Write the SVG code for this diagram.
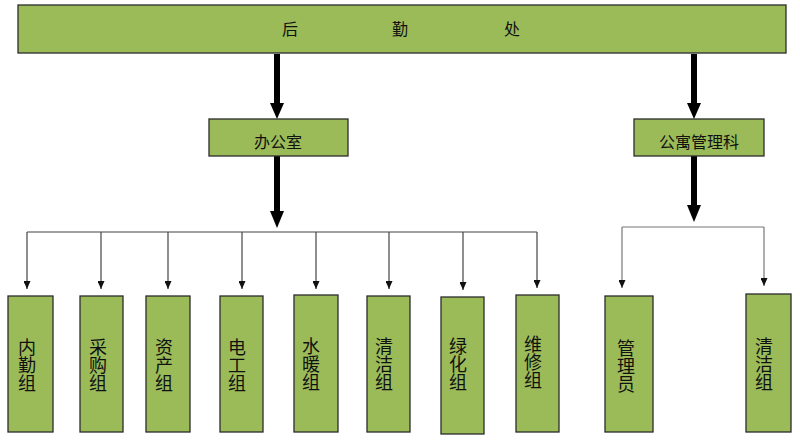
<svg xmlns="http://www.w3.org/2000/svg" width="800" height="444" viewBox="0 0 800 444">
<defs>
<style>
.box{fill:#9BBB59;stroke:#2b2b2b;stroke-width:1.3}
.t{font-family:"Noto Sans CJK SC","Noto Sans",sans-serif;font-size:16px;fill:#111;text-anchor:middle;dominant-baseline:central}
.v{font-family:"Noto Sans CJK SC","Noto Sans",sans-serif;font-size:18px;fill:#111;text-anchor:middle;writing-mode:vertical-rl;text-orientation:upright}
.thick{stroke:#000;stroke-width:6;fill:none}
.thin{stroke:#444;stroke-width:1.2;fill:none}
</style>
<marker id="small" viewBox="0 0 7 8" refX="3.5" refY="8" markerWidth="7" markerHeight="8" markerUnits="userSpaceOnUse">
<path d="M0,0 L7,0 L3.5,8 Z" fill="#111"/>
</marker>
</defs>
<rect width="800" height="444" fill="#fff"/>

<g id="connectors">
<line class="thick" x1="277" y1="54" x2="277" y2="103"/>
<path d="M270,103 L284,103 L277,119 Z" fill="#000"/>
<line class="thick" x1="277" y1="156" x2="277" y2="212"/>
<path d="M270,211 L284,211 L277,228 Z" fill="#000"/>
<line class="thick" x1="694" y1="54" x2="694" y2="103"/>
<path d="M687,103 L701,103 L694,119 Z" fill="#000"/>
<line class="thick" x1="694" y1="156" x2="694" y2="206"/>
<path d="M687,205 L701,205 L694,222 Z" fill="#000"/>

<polyline class="thin" points="27,232 537,232"/>
<line class="thin" x1="27" y1="232" x2="27" y2="289" marker-end="url(#small)"/>
<line class="thin" x1="101" y1="232" x2="101" y2="289" marker-end="url(#small)"/>
<line class="thin" x1="168" y1="232" x2="168" y2="289" marker-end="url(#small)"/>
<line class="thin" x1="242" y1="232" x2="242" y2="289" marker-end="url(#small)"/>
<line class="thin" x1="316" y1="232" x2="316" y2="289" marker-end="url(#small)"/>
<line class="thin" x1="389" y1="232" x2="389" y2="289" marker-end="url(#small)"/>
<line class="thin" x1="463" y1="232" x2="463" y2="290" marker-end="url(#small)"/>
<line class="thin" x1="537" y1="232" x2="537" y2="288" marker-end="url(#small)"/>

<polyline class="thin" points="622,227 764,227" style="stroke:#777"/>
<line class="thin" x1="622" y1="227" x2="622" y2="288" style="stroke:#777" marker-end="url(#small)"/>
<line class="thin" x1="764" y1="227" x2="764" y2="286" style="stroke:#777" marker-end="url(#small)"/>
</g>

<g id="top">
<rect class="box" x="18" y="5" width="768" height="48"/>
<text class="t" x="290" y="28">后</text>
<text class="t" x="400" y="28">勤</text>
<text class="t" x="512" y="28">处</text>
</g>

<g id="office">
<rect class="box" x="209" y="119" width="139" height="37"/>
<text class="t" x="278" y="141">办公室</text>
</g>

<g id="apartment">
<rect class="box" x="634" y="119" width="130" height="37"/>
<text class="t" x="699" y="141">公寓管理科</text>
</g>

<g id="neiqin">
<rect class="box" x="8" y="296" width="45" height="136"/>
<text class="v" x="27" y="365">内勤组</text>
</g>
<g id="caigou">
<rect class="box" x="80" y="296" width="43" height="136"/>
<text class="v" x="98" y="365">采购组</text>
</g>
<g id="zichan">
<rect class="box" x="146" y="296" width="44" height="136"/>
<text class="v" x="164" y="365">资产组</text>
</g>
<g id="diangong">
<rect class="box" x="220" y="296" width="43" height="136"/>
<text class="v" x="237" y="365">电工组</text>
</g>
<g id="shuinuan">
<rect class="box" x="294" y="295" width="44" height="137"/>
<text class="v" x="311" y="364">水暖组</text>
</g>
<g id="qingjie1">
<rect class="box" x="367" y="296" width="43" height="136"/>
<text class="v" x="384" y="364">清洁组</text>
</g>
<g id="lvhua">
<rect class="box" x="441" y="297" width="43" height="137"/>
<text class="v" x="458" y="364">绿化组</text>
</g>
<g id="weixiu">
<rect class="box" x="516" y="295" width="43" height="137"/>
<text class="v" x="533" y="362">维修组</text>
</g>
<g id="guanliyuan">
<rect class="box" x="605" y="296" width="48" height="136"/>
<text class="v" x="626" y="366">管理员</text>
</g>
<g id="qingjie2">
<rect class="box" x="746" y="294" width="45" height="138"/>
<text class="v" x="764" y="364">清洁组</text>
</g>
</svg>
